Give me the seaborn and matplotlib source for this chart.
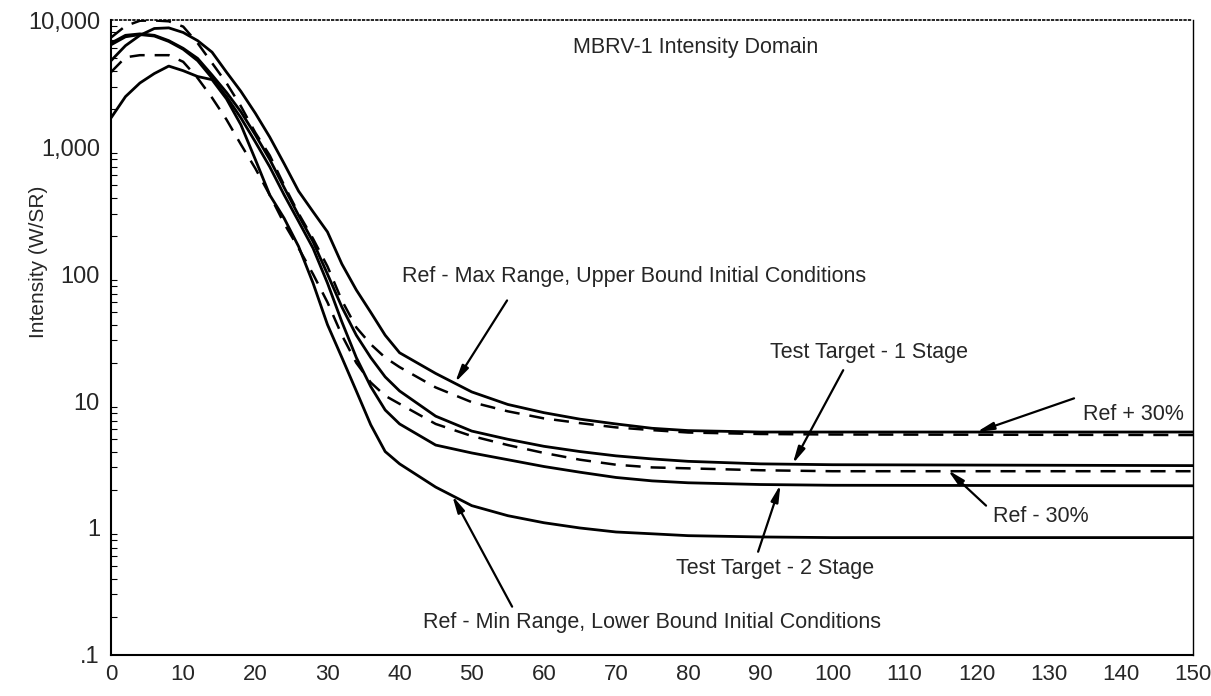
import pandas as pd
import matplotlib
matplotlib.use("Agg")
import matplotlib.pyplot as plt
import seaborn as sns

# shared range grid (x axis)
x = [0, 2, 4, 6, 8, 10, 12, 14, 16, 18, 20, 22, 24, 26, 28, 30, 32, 34, 36, 38, 40,
     45, 50, 55, 60, 65, 70, 75, 80, 90, 100, 150]

# Ref - Max Range, Upper Bound Initial Conditions (solid)
ref_max = [4800, 6300, 7600, 8600, 8700, 8000, 6900, 5600, 3900, 2750, 1850, 1200, 740, 450,
           310, 215, 120, 75, 50, 33, 24, 16.5, 11.8, 9.4, 8.1, 7.2, 6.6, 6.1, 5.85, 5.7, 5.7, 5.7]
# Ref + 30% (dashed)
ref_plus = [7300, 9000, 9900, 9950, 9800, 8900, 6600, 4600, 3200, 2100, 1300, 860, 500, 300,
            190, 115, 62, 38, 28, 22, 18.5, 12.8, 9.8, 8.3, 7.3, 6.7, 6.2, 5.9, 5.65, 5.5, 5.45, 5.4]
# Test Target - 1 Stage (solid)
tt1 = [6600, 7600, 7800, 7600, 6900, 6000, 5000, 3700, 2700, 1900, 1250, 800, 480, 290,
       180, 100, 55, 33, 22, 15.5, 12, 7.6, 5.8, 5.0, 4.4, 4.0, 3.7, 3.5, 3.35, 3.2, 3.15, 3.1]
# Test Target - 2 Stage (solid)
tt2 = [6400, 7400, 7700, 7500, 6800, 5900, 4800, 3500, 2500, 1700, 1100, 700, 420, 260,
       160, 85, 42, 22, 13, 8.5, 6.6, 4.5, 3.9, 3.45, 3.05, 2.75, 2.5, 2.35, 2.27, 2.2, 2.17, 2.15]
# Ref - 30% (dashed)
ref_minus = [3900, 5100, 5300, 5300, 5300, 4700, 3500, 2450, 1650, 1050, 680, 420, 250, 160,
             100, 60, 33, 20, 14, 11, 9.5, 6.6, 5.3, 4.5, 3.9, 3.45, 3.15, 3.0, 2.95, 2.85, 2.8, 2.8]
# Ref - Min Range, Lower Bound Initial Conditions (solid)
ref_min = [1700, 2500, 3200, 3800, 4350, 4000, 3600, 3400, 2400, 1500, 800, 420, 275, 165,
           85, 40, 22, 12, 6.5, 4.0, 3.2, 2.1, 1.5, 1.25, 1.1, 1.0, 0.93, 0.9, 0.87, 0.85, 0.84, 0.84]

x_ticks = list(range(0, 151, 10))
y_ticks = [0.1, 1, 10, 100, 1000, 10000]
y_tick_labels = [".1", "1", "10", "100", "1,000", "10,000"]

sns.set_style("white")
plt.rcParams["font.family"] = ["Liberation Sans", "DejaVu Sans"]

fig = plt.figure(figsize=(12.11, 6.96), dpi=100)
ax = fig.add_axes([0.0917, 0.059, 0.8935, 0.912])

solid = [ref_max, tt1, tt2, ref_min]
dashed = [ref_plus, ref_minus]
for s in solid:
    sns.lineplot(x=x, y=s, ax=ax, color="black", lw=2.0, linestyle="-")
for s in dashed:
    sns.lineplot(x=x, y=s, ax=ax, color="black", lw=1.8, linestyle=(0, (6, 4)))

ax.set_yscale("log")
ax.set_xlim(0, 150)
ax.set_ylim(0.1, 10000)
ax.set_xticks(x_ticks)
ax.set_xticklabels([str(t) for t in x_ticks], fontsize=16,
                   family=["Liberation Sans Narrow", "Liberation Sans", "DejaVu Sans"])
ax.set_yticks(y_ticks)
ax.set_yticklabels(y_tick_labels, fontsize=17)
ax.tick_params(axis="both", which="major", direction="inout", length=9, width=1.2, color="black")
ax.tick_params(axis="x", which="major", pad=2)
ax.tick_params(axis="y", which="minor", direction="in", length=4, width=0.8, color="black", left=True)
ax.set_ylabel("Intensity (W/SR)", fontsize=15)
ax.yaxis.set_label_coords(-0.058, 0.62)

for side in ["left", "bottom"]:
    ax.spines[side].set_color("black")
    ax.spines[side].set_linewidth(1.5)
ax.spines["right"].set_color("black")
ax.spines["right"].set_linewidth(1.0)
ax.spines["top"].set_color("black")
ax.spines["top"].set_linewidth(1.2)
ax.spines["top"].set_linestyle(":")

ax.text(81, 6100, "MBRV-1 Intensity Domain", fontsize=15.5, ha="center", va="center")

arrow = dict(arrowstyle="-|>,head_width=0.22,head_length=1.0", color="black", lw=1.6,
             shrinkA=0, shrinkB=0)
ax.text(40.4, 95, "Ref - Max Range, Upper Bound Initial Conditions", fontsize=15.5, ha="left", va="center")
ax.annotate("", xy=(47.7, 14), xytext=(54.9, 62), arrowprops=arrow)
ax.text(91.3, 24, "Test Target - 1 Stage", fontsize=15.5, ha="left", va="center")
ax.annotate("", xy=(94.5, 3.2), xytext=(101.5, 17.5), arrowprops=arrow)
ax.text(134.7, 7.9, "Ref + 30%", fontsize=15.5, ha="left", va="center")
ax.annotate("", xy=(120, 5.7), xytext=(133.5, 10.5), arrowprops=arrow)
ax.text(122.3, 1.24, "Ref - 30%", fontsize=15.5, ha="left", va="center")
ax.annotate("", xy=(116, 2.86), xytext=(121.3, 1.5), arrowprops=arrow)
ax.text(78.3, 0.48, "Test Target - 2 Stage", fontsize=15.5, ha="left", va="center")
ax.annotate("", xy=(92.8, 2.2), xytext=(89.7, 0.65), arrowprops=arrow)
ax.text(43.2, 0.18, "Ref - Min Range, Lower Bound Initial Conditions", fontsize=15.5, ha="left", va="center")
ax.annotate("", xy=(47.3, 1.8), xytext=(55.6, 0.24), arrowprops=arrow)

fig.savefig("out.png", dpi=100)
